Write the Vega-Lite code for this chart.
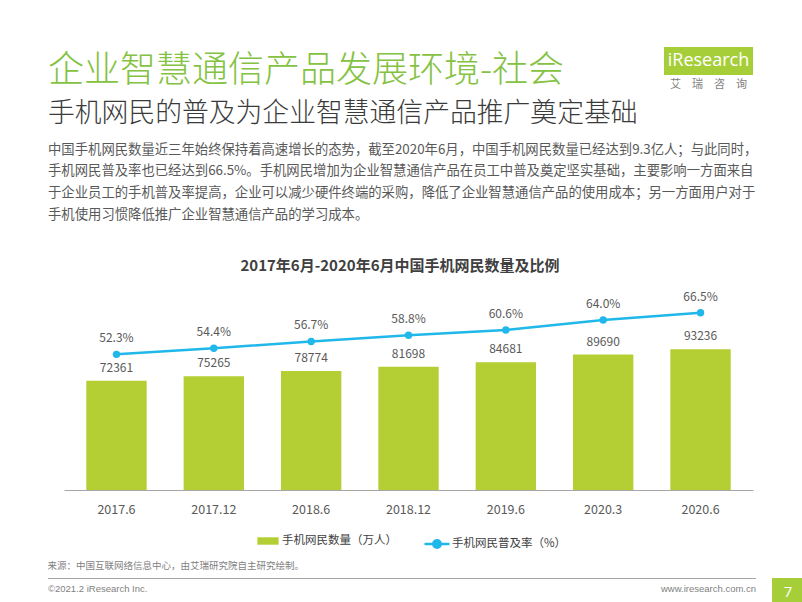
{
  "$schema": "https://vega.github.io/schema/vega-lite/v6.json",
  "background": "white",
  "padding": {"left": 47, "top": 47, "right": 0, "bottom": 0},
  "spacing": 7,
  "resolve": {"legend": {"fill": "independent", "stroke": "independent"}},
  "config": {
    "font": "Noto Sans CJK SC",
    "view": {"stroke": null},
    "legend": {
      "layout": {"bottom": {"anchor": "middle", "direction": "horizontal", "margin": 26}}
    }
  },
  "vconcat": [
    {
      "spacing": 14,
      "vconcat": [
        {
          "spacing": 16,
          "hconcat": [
            {
              "width": 600,
              "height": 1,
              "title": {
                "text": "企业智慧通信产品发展环境-社会",
                "subtitle": "手机网民的普及为企业智慧通信产品推广奠定基础",
                "orient": "bottom",
                "anchor": "start",
                "font": "Noto Sans CJK SC",
                "fontSize": 36,
                "fontWeight": 300,
                "color": "#84c241",
                "subtitleFont": "Noto Sans CJK SC",
                "subtitleFontSize": 26.8,
                "subtitleFontWeight": 300,
                "subtitleColor": "#3a3a3a",
                "subtitlePadding": 11,
                "offset": 6
              },
              "data": {"values": []},
              "mark": "text"
            },
            {
              "width": 89,
              "height": 28,
              "view": {"fill": "#a6ce39", "stroke": null},
              "title": {
                "text": "艾　瑞　咨　询",
                "orient": "bottom",
                "anchor": "middle",
                "fontSize": 11,
                "fontWeight": "normal",
                "color": "#7f7f7f",
                "offset": 4
              },
              "data": {"values": [{}]},
              "mark": {"type": "text", "text": "iResearch", "font": "Open Sans", "fontSize": 18, "color": "white", "baseline": "middle"}
            }
          ]
        },
        {
          "width": 708,
          "height": 27,
          "title": {
            "text": [
              "中国手机网民数量近三年始终保持着高速增长的态势，截至2020年6月，中国手机网民数量已经达到9.3亿人；与此同时，",
              "手机网民普及率也已经达到66.5%。手机网民增加为企业智慧通信产品在员工中普及奠定坚实基础，主要影响一方面来自",
              "于企业员工的手机普及率提高，企业可以减少硬件终端的采购，降低了企业智慧通信产品的使用成本；另一方面用户对于",
              "手机使用习惯降低推广企业智慧通信产品的学习成本。"
            ],
            "anchor": "start",
            "fontSize": 13.35,
            "fontWeight": "normal",
            "color": "#595959",
            "lineHeight": 21.7,
            "offset": 4
          },
          "data": {"values": []},
          "mark": "text"
        }
      ]
    },
    {
      "width": 708,
      "height": 200,
      "title": {
        "text": "2017年6月-2020年6月中国手机网民数量及比例",
        "anchor": "middle",
        "dx": -2,
        "fontSize": 15,
        "fontWeight": "bold",
        "color": "#404040",
        "offset": 16
      },
      "data": {
        "values": [
          {"period": "2017.6", "users": 72361, "rate": 0.523},
          {"period": "2017.12", "users": 75265, "rate": 0.544},
          {"period": "2018.6", "users": 78774, "rate": 0.567},
          {"period": "2018.12", "users": 81698, "rate": 0.588},
          {"period": "2019.6", "users": 84681, "rate": 0.606},
          {"period": "2020.3", "users": 89690, "rate": 0.640},
          {"period": "2020.6", "users": 93236, "rate": 0.665}
        ]
      },
      "encoding": {
        "x": {
          "field": "period",
          "type": "ordinal",
          "sort": null,
          "scale": {"range": [16, 705], "paddingInner": 0.38, "paddingOuter": 0.229},
          "axis": {
            "title": null,
            "labelAngle": 0,
            "labelFontSize": 12.5,
            "labelColor": "#595959",
            "labelPadding": 13,
            "ticks": false,
            "tickSize": 0,
            "domainColor": "#a6a6a6",
            "domainWidth": 1,
            "grid": false
          }
        }
      },
      "layer": [
        {
          "mark": {"type": "bar"},
          "encoding": {
            "y": {"field": "users", "type": "quantitative", "scale": {"domain": [0, 132450]}, "axis": null},
            "fill": {
              "datum": "手机网民数量（万人）",
              "type": "nominal",
              "scale": {"range": ["#b3cf33"]},
              "legend": {
                "orient": "bottom",
                "title": " ",
                "titleOrient": "left",
                "titlePadding": 20,
                "symbolType": "M-1,-0.35L1,-0.35L1,0.35L-1,0.35Z",
                "symbolSize": 450,
                "symbolStrokeWidth": 0,
                "labelFontSize": 11.5,
                "labelColor": "#404040",
                "labelOffset": 3,
                "offset": 14
              }
            }
          }
        },
        {
          "mark": {"type": "text", "dy": -13, "fontSize": 12, "color": "#595959"},
          "encoding": {
            "y": {"field": "users", "type": "quantitative", "scale": {"domain": [0, 132450]}, "axis": null},
            "text": {"field": "users", "type": "quantitative", "format": "d"}
          }
        },
        {
          "mark": {"type": "line", "strokeWidth": 2.5},
          "encoding": {
            "y": {"field": "rate", "type": "quantitative", "scale": {"domain": [0.06, 0.7426]}, "axis": null},
            "stroke": {
              "datum": "手机网民普及率（%）",
              "type": "nominal",
              "scale": {"range": ["#20b7ea"]},
              "legend": {
                "orient": "bottom",
                "title": null,
                "symbolType": "M-1,0L1,0M-0.3,0A0.3,0.3,0,1,1,0.3,0A0.3,0.3,0,1,1,-0.3,0Z",
                "symbolSize": 625,
                "symbolStrokeWidth": 2.5,
                "symbolFillColor": "#20b7ea",
                "labelFontSize": 11.5,
                "labelColor": "#404040",
                "labelOffset": 1,
                "offset": 14
              }
            }
          }
        },
        {
          "mark": {"type": "point", "filled": true, "size": 55, "opacity": 1, "color": "#20b7ea"},
          "encoding": {
            "y": {"field": "rate", "type": "quantitative", "scale": {"domain": [0.06, 0.7426]}, "axis": null}
          }
        },
        {
          "mark": {"type": "text", "dy": -16, "fontSize": 12, "color": "#595959"},
          "encoding": {
            "y": {"field": "rate", "type": "quantitative", "scale": {"domain": [0.06, 0.7426]}, "axis": null},
            "text": {"field": "rate", "type": "quantitative", "format": ".1%"}
          }
        }
      ],
      "resolve": {"scale": {"y": "independent"}}
    },
    {
      "spacing": 15,
      "hconcat": [
        {
          "width": 708,
          "height": 1,
          "title": {
            "text": "来源：中国互联网络信息中心，由艾瑞研究院自主研究绘制。",
            "anchor": "start",
            "fontSize": 9.5,
            "fontWeight": "normal",
            "color": "#7f7f7f",
            "offset": 8
          },
          "data": {"values": [{}]},
          "layer": [
            {
              "mark": {"type": "rule", "color": "#a6a6a6", "strokeWidth": 1},
              "encoding": {
                "x": {"datum": 0, "type": "quantitative", "scale": {"domain": [0, 1]}, "axis": null},
                "x2": {"datum": 1}
              }
            },
            {
              "mark": {"type": "text", "text": "©2021.2 iResearch Inc.", "align": "left", "dy": 10, "fontSize": 9.5, "font": "Liberation Sans", "color": "#7f7f7f"},
              "encoding": {
                "x": {"datum": 0, "type": "quantitative", "scale": {"domain": [0, 1]}, "axis": null}
              }
            },
            {
              "mark": {"type": "text", "text": "www.iresearch.com.cn", "align": "right", "dy": 10, "fontSize": 9.5, "font": "Liberation Sans", "color": "#7f7f7f"},
              "encoding": {
                "x": {"datum": 1, "type": "quantitative", "scale": {"domain": [0, 1]}, "axis": null}
              }
            }
          ]
        },
        {
          "width": 32,
          "height": 27,
          "view": {"fill": "#a6ce39", "stroke": null},
          "data": {"values": [{}]},
          "mark": {"type": "text", "text": "7", "font": "Open Sans", "fontSize": 15, "color": "white", "baseline": "middle"}
        }
      ]
    }
  ]
}
